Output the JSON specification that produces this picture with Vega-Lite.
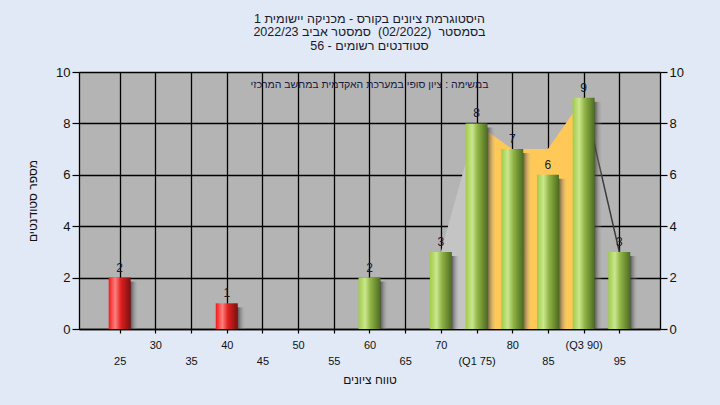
{
  "$schema": "https://vega.github.io/schema/vega-lite/v6.json",
  "width": 581,
  "height": 257,
  "autosize": "none",
  "padding": {"left": 79, "top": 72, "right": 60, "bottom": 76},
  "background": "#e0e9f5",
  "config": {
    "font": "Liberation Sans",
    "view": {"fill": "#b4b4b4", "stroke": null},
    "axis": {"labelColor": "#111111", "titleColor": "#111111", "titleFontWeight": "normal", "domainColor": "#000000", "tickColor": "#000000"}
  },
  "title": {
    "text": ["היסטוגרמת ציונים בקורס - מכניקה יישומית 1", "בסמסטר \u00a0(02/2022) \u00a0סמסטר אביב 2022/23", "סטודנטים רשומים - 56"],
    "fontSize": 12.5,
    "fontWeight": "normal",
    "color": "#1a1a2a",
    "lineHeight": 13.5,
    "anchor": "middle",
    "frame": "group",
    "offset": 14
  },
  "datasets": {
    "bars": [
      {"grade": 25, "count": 2, "group": "fail"},
      {"grade": 40, "count": 1, "group": "fail"},
      {"grade": 60, "count": 2, "group": "pass"},
      {"grade": 70, "count": 3, "group": "pass"},
      {"grade": 75, "count": 8, "group": "pass"},
      {"grade": 80, "count": 7, "group": "pass"},
      {"grade": 85, "count": 6, "group": "pass"},
      {"grade": 90, "count": 9, "group": "pass"},
      {"grade": 95, "count": 3, "group": "pass"}
    ],
    "curve": [
      {"grade": 70, "v": 3, "seg": "low"},
      {"grade": 75, "v": 8, "seg": "low"},
      {"grade": 75, "v": 8, "seg": "iqr"},
      {"grade": 80, "v": 7, "seg": "iqr"},
      {"grade": 85, "v": 7, "seg": "iqr"},
      {"grade": 90, "v": 9, "seg": "iqr"},
      {"grade": 90, "v": 9, "seg": "high"},
      {"grade": 95, "v": 3, "seg": "high"}
    ],
    "note": [
      {"grade": 60, "v": 9.5, "label": "במשימה : ציון סופי במערכת האקדמית במחשב המרכזי"}
    ]
  },
  "encoding": {
    "x": {
      "field": "grade", "type": "quantitative",
      "scale": {"domain": [20, 100], "nice": false, "zero": false},
      "axis": {
        "values": [25, 30, 35, 40, 45, 50, 55, 60, 65, 70, 75, 80, 85, 90, 95],
        "grid": true, "gridColor": "#000000", "gridWidth": 1.3, "gridOpacity": 1,
        "tickSize": 4, "tickWidth": 1.2, "domainWidth": 1.3,
        "labelExpr": "datum.value % 10 == 0 ? (datum.value == 90 ? '(Q3 90)' : datum.label) : ['', datum.value == 75 ? '(Q1 75)' : datum.label]",
        "labelBaseline": "top", "labelLineHeight": 16, "labelPadding": 6,
        "labelFontSize": 11, "labelOverlap": false, "labelFlush": false,
        "title": "טווח ציונים", "titleFontSize": 12, "titlePadding": 8
      }
    }
  },
  "resolve": {"axis": {"y": "independent"}},
  "layer": [
    {
      "data": {"name": "curve"},
      "transform": [{"filter": "datum.seg == 'low'"}],
      "mark": {"type": "area", "color": "#c4c4c4"},
      "encoding": {
        "y": {
          "field": "v", "type": "quantitative",
          "scale": {"domain": [0, 10], "nice": false},
          "axis": {
            "orient": "left", "values": [0, 2, 4, 6, 8, 10],
            "grid": true, "gridColor": "#000000", "gridWidth": 1.3, "gridOpacity": 1,
            "tickSize": 7, "tickWidth": 1.2, "domainWidth": 1.3,
            "labelFontSize": 13, "labelPadding": 2,
            "title": "מספר סטודנטים", "titleFontSize": 12, "titlePadding": 16
          }
        }
      }
    },
    {
      "data": {"name": "curve"},
      "transform": [{"filter": "datum.seg == 'iqr'"}],
      "mark": {"type": "area", "color": "#ffc857"},
      "encoding": {
        "y": {"field": "v", "type": "quantitative", "axis": null}
      }
    },
    {
      "data": {"name": "curve"},
      "transform": [{"filter": "datum.seg == 'high'"}],
      "mark": {"type": "line", "color": "#3a3a3a", "strokeWidth": 1.5},
      "encoding": {
        "y": {"field": "v", "type": "quantitative", "axis": null}
      }
    },
    {
      "data": {"name": "bars"},
      "mark": {
        "type": "bar", "size": 26, "xOffset": 6, "yOffset": 4, "clip": true,
        "color": {"gradient": "linear", "x1": 0, "y1": 0, "x2": 1, "y2": 0,
          "stops": [{"offset": 0, "color": "rgba(40,40,40,0.9)"}, {"offset": 0.66, "color": "rgba(40,40,40,0.8)"}, {"offset": 1, "color": "rgba(180,180,180,0)"}]}
      },
      "encoding": {
        "y": {"field": "count", "type": "quantitative", "axis": null}
      }
    },
    {
      "data": {"name": "bars"},
      "transform": [{"filter": "datum.group == 'fail'"}],
      "mark": {
        "type": "bar", "size": 22,
        "color": {"gradient": "linear", "x1": 0, "y1": 0, "x2": 1, "y2": 0,
          "stops": [{"offset": 0, "color": "#f21818"}, {"offset": 0.3, "color": "#ff8080"}, {"offset": 0.55, "color": "#e02020"}, {"offset": 1, "color": "#7a1010"}]}
      },
      "encoding": {
        "y": {"field": "count", "type": "quantitative", "axis": null}
      }
    },
    {
      "data": {"name": "bars"},
      "transform": [{"filter": "datum.group == 'pass'"}],
      "mark": {
        "type": "bar", "size": 22,
        "color": {"gradient": "linear", "x1": 0, "y1": 0, "x2": 1, "y2": 0,
          "stops": [{"offset": 0, "color": "#9fcc45"}, {"offset": 0.3, "color": "#cbe68f"}, {"offset": 0.55, "color": "#8fb444"}, {"offset": 1, "color": "#4d6b22"}]}
      },
      "encoding": {
        "y": {"field": "count", "type": "quantitative", "axis": null}
      }
    },
    {
      "data": {"name": "bars"},
      "mark": {"type": "text", "baseline": "bottom", "dy": -3, "fontSize": 12, "color": "#1a1a2a"},
      "encoding": {
        "y": {
          "field": "count", "type": "quantitative",
          "axis": {
            "orient": "right", "values": [0, 2, 4, 6, 8, 10], "grid": false,
            "tickSize": 7, "tickWidth": 1.2, "domainWidth": 1.3,
            "labelFontSize": 13, "labelPadding": 2, "title": null
          }
        },
        "text": {"field": "count", "type": "quantitative"}
      }
    },
    {
      "data": {"name": "note"},
      "mark": {"type": "text", "fontSize": 10.5, "color": "#1a1a3a", "baseline": "middle"},
      "encoding": {
        "y": {"field": "v", "type": "quantitative", "axis": null},
        "text": {"field": "label"}
      }
    }
  ]
}
